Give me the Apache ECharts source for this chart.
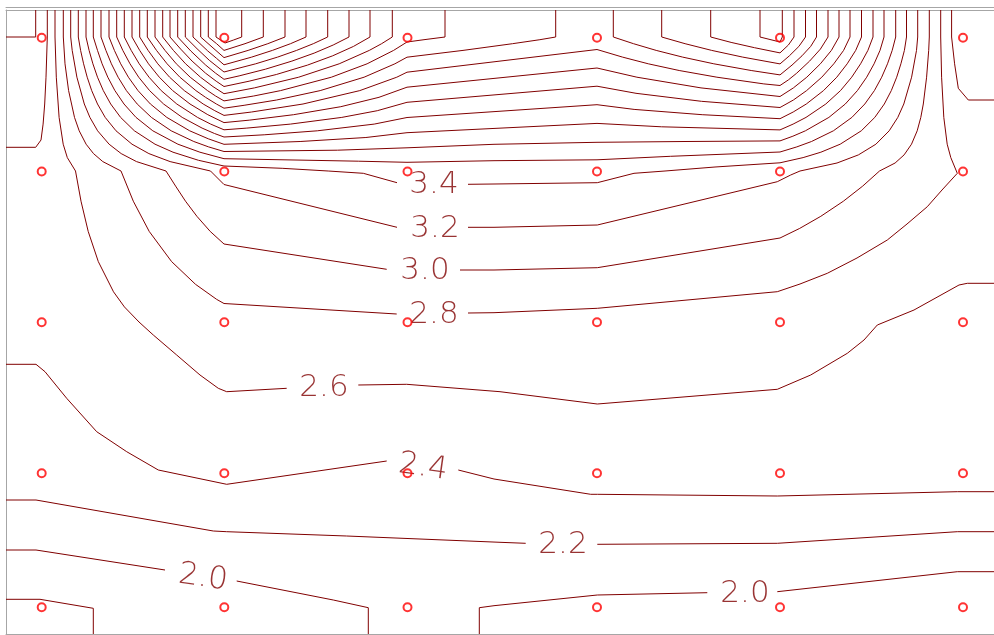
<!DOCTYPE html>
<html>
<head>
<meta charset="utf-8">
<script src="https://cdn.jsdelivr.net/npm/echarts@6/dist/echarts.min.js"></script>
<style>html,body{margin:0;padding:0;background:#fff;}#chart{width:994px;height:635px;}</style>
</head>
<body>
<div id="chart"></div>
<script>
// measurement node positions (red circles)
const nodeX = [41.7, 224.3, 407.5, 597, 780, 963];
const nodeY = [37.7, 171.5, 322.3, 473.3, 607.3];

// contour polylines (x, y in plot units), levels in names
const c68 = [[216,10],[216,37],[220.7,40.1],[225,43],[233.3,40.1],[241.7,37],[241.7,10]];
const c66 = [[208.3,10],[208.3,37],[216.6,43.7],[224,50.4],[245,43.7],[263.3,37],[263.3,10]];
const c64 = [[200.7,10],[200.7,37],[212,47],[224,57.6],[248.1,50.4],[267.8,43.7],[285,37],[285,10]];
const c62 = [[193,10],[193,37],[207.7,50.9],[216.6,58.4],[224,64.8],[251.7,57.1],[272.4,50.4],[290.5,43.7],[306,37],[306,10]];
const c60 = [[185.3,10],[185.3,37],[197,48.7],[209.3,60.3],[224,72],[255.7,63.8],[277.6,57.1],[296.6,50.4],[313.3,43.7],[327.7,37],[327.7,10]];
const c58 = [[177.7,10],[177.7,37],[190.9,51.1],[205.7,65.1],[215.6,73.2],[224,79.3],[239.1,75.9],[265.4,69.2],[291.9,61.1],[314.2,53.1],[333.2,45],[349,37],[349,10]];
const c56 = [[170,10],[170,37],[180.7,49.1],[192.1,61.1],[205.6,73.2],[216.2,81.2],[224,86.5],[249.1,81.2],[276.3,74.5],[307.5,65.1],[332.7,55.8],[353.5,46.4],[370,37],[370,10]];
const c54 = [[162.7,10],[162.7,37],[173.4,50.4],[185.6,63.8],[200.5,77.2],[213,86.6],[224,93.7],[254.4,87.9],[298.7,77.2],[339.2,63.8],[369.3,50.4],[381.6,43.7],[392.3,37],[392.3,10]];
const c52 = [[155,10],[155,37],[165,50.4],[176.3,63.8],[190.2,77.2],[207.5,90.6],[215.6,96],[224,100.9],[253.7,96],[280.6,90.6],[331.4,77.2],[367.1,63.8],[393.6,50.4],[407,42],[424,39.7],[445,37],[445,10]];
const c50 = [[147.3,10],[147.3,37],[156.5,50.4],[167.1,63.8],[179.9,77.2],[195.9,90.6],[205.5,97.3],[216.4,104],[224,108.2],[244.1,105.3],[276.6,100],[320.2,90.6],[364.1,77.2],[394.9,63.8],[407,57.2],[463,50.4],[512.5,43.7],[539.9,39.7],[555.7,37],[555.7,10]];
const c48 = [[139.7,10],[139.7,37],[148.1,50.4],[157.8,63.8],[169.6,77.2],[184.3,90.6],[203.2,104],[214.8,110.7],[224,115.4],[251.6,112],[303,104],[359.8,90.6],[396.8,77.2],[407,72.2],[597,49.5],[622.5,57.1],[648.3,63.8],[679.2,70.5],[716.9,77.2],[763.8,83.9],[780,85.5],[788.4,79.9],[796.7,73.2],[809.6,61.1],[820.4,49.1],[828,37],[828,10]];
const c46 = [[132,10],[132,37],[139.7,50.4],[148.5,63.8],[159.3,77.2],[172.7,90.6],[190,104],[207.8,114.7],[224,122.6],[249.8,120.1],[293.6,114.7],[340.8,106.7],[379,97.3],[407,87.2],[597,68],[636.9,77.2],[701,87.9],[780,96.5],[793.4,87.9],[806.8,77.2],[820.4,63.8],[831.4,50.4],[839,37],[839,10]];
const c44 = [[124.3,10],[124.3,37],[131.2,50.4],[139.2,63.8],[149,77.2],[161.2,90.6],[176.8,104],[197.5,117.4],[210.7,124.1],[224,129.8],[246.8,128.1],[290.4,124.1],[341.8,117.4],[377.3,110.7],[407,102.3],[597,86.2],[636,93.3],[701.4,101.3],[780,107.5],[793.4,100],[806.6,90.6],[821.8,77.2],[833.8,63.8],[843.6,50.4],[850,37],[850,10]];
const c42 = [[116.7,10],[116.7,37],[122.8,50.4],[130,63.8],[138.7,77.2],[149.6,90.6],[163.6,104],[182.2,117.4],[202.1,128.1],[214.5,133.5],[224,137],[264.2,134.8],[317.3,130.8],[374.2,124.1],[407,117.5],[597,104.7],[634.1,109.4],[702.2,114.7],[780,118.7],[793.2,112],[806.3,104],[823.5,90.6],[836.8,77.2],[847.2,63.8],[855.7,50.4],[861.5,37],[861.5,10]];
const c40 = [[109,10],[109,37],[114.4,50.4],[120.7,63.8],[128.4,77.2],[138,90.6],[150.4,104],[166.8,117.4],[189.7,130.8],[208.3,138.8],[224,144.3],[300.1,141.5],[365.9,137.5],[407,132.7],[597,123.4],[661.6,126.8],[780,129.9],[793.1,124.1],[806,117.4],[825.8,104],[840.5,90.6],[851.7,77.2],[860.6,63.8],[867.9,50.4],[873,37],[873,10]];
const c38 = [[101,10],[101,37],[105.9,50.4],[111.4,63.8],[118.1,77.2],[126.4,90.6],[137.2,104],[151.4,117.4],[171.2,130.8],[193.8,141.5],[208.6,146.9],[224,151.5],[337.5,150.2],[407,147.8],[494,144.3],[597,142.3],[685,141.5],[780,140.9],[792.9,136.2],[805.4,130.8],[828.9,117.4],[845.3,104],[857.4,90.6],[866.7,77.2],[874.1,63.8],[880,50.4],[884,37],[884,10]];
const c36 = [[93.3,10],[93.3,37],[97.5,50.4],[102.1,63.8],[107.8,77.2],[114.9,90.6],[124,104],[136,117.4],[152.8,130.8],[177.9,144.2],[199.9,152.2],[224,158.7],[358.3,161.2],[407,162.3],[494,160.7],[597,159.8],[670.4,156.3],[780,152],[796.8,146.9],[811.5,141.5],[833.4,130.8],[851.9,117.4],[864.8,104],[874.4,90.6],[881.7,77.2],[887.5,63.8],[892.2,50.4],[895.7,37],[895.7,10]];
const c34a = [[86,10],[86,37],[89.1,50.4],[92.9,63.8],[97.5,77.2],[103.3,90.6],[110.7,104],[120.6,117.4],[134.4,130.8],[155,144.2],[173,152.2],[198.5,160.3],[224,166],[282.2,168.3],[328.2,171],[363.3,173.3],[397,182.7]];
const c34b = [[468,184.3],[494,184],[597.3,182.7],[634,173.3],[665,171],[715,167],[780,162.8],[803.1,157.6],[820.9,152.2],[840.2,144.2],[861.3,130.8],[874.8,117.4],[884.3,104],[891.3,90.6],[896.7,77.2],[900.9,63.8],[904.4,50.4],[906.5,37],[906.5,10]];
const c32a = [[78.3,10],[78.3,37],[80.6,50.4],[83.6,63.8],[87.2,77.2],[91.7,90.6],[97.5,104],[105.2,117.4],[116,130.8],[132,144.2],[148.9,153.6],[170.1,161.6],[210.5,171],[224,184.5],[397,227.3]];
const c32b = [[468,227.3],[494,227.3],[597.3,225],[777.3,181.7],[790.7,175],[800,171],[837,163],[858.4,154.9],[875.9,144.2],[889.2,130.8],[897.8,117.4],[903.8,104],[911.6,77.2],[916.5,50.4],[917.7,37],[917.7,10]];
const c30a = [[70.7,10],[70.7,37],[72.2,50.4],[76.9,77.2],[84.3,104],[89.9,117.4],[97.6,130.8],[109.1,144.2],[121.2,153.6],[136.5,161.6],[166,171],[175.6,186.1],[185.5,201.2],[196.9,216.3],[210.2,231.4],[224,244],[386.7,269.3]];
const c30b = [[460,270],[494,270],[597.3,267.7],[780,238],[799.7,228.4],[820.8,216.3],[843.4,201.2],[862.7,186.1],[879.5,171],[895.1,163],[904.1,154.9],[911.5,144.2],[917.2,130.8],[920.8,117.4],[923.3,104],[926.6,77.2],[928.7,50.4],[929.3,37],[929.3,10]];
const c28a = [[63.3,10],[63.3,37],[65,63.8],[68.6,90.6],[74.5,117.4],[79.2,130.8],[86.1,144.2],[93.5,153.6],[102.8,161.6],[121,171],[133.3,201.2],[149.2,231.4],[171.6,261.6],[195.5,284.3],[216.7,299.4],[224,303.5],[396.7,314]];
const c28b = [[468,313],[494,312.7],[597.3,308.3],[777.3,291.7],[800,284],[827.3,273.3],[857,258],[887.3,240],[907,224],[927.3,206.7],[942,190],[957.3,173.3],[950.8,157.6],[947.2,144.2],[943.8,117.4],[941.6,77.2],[940.7,37],[940.7,10]];
const c26a = [[55,10],[55,37],[56.3,77.2],[59.1,117.4],[63.2,144.2],[67.3,157.6],[75.5,171],[81,201.2],[88.2,231.4],[98.3,261.6],[113.5,291.8],[124.4,306.9],[139,322],[153.3,335],[176.7,355],[200,375],[218.3,388.3],[226.7,391.7],[286.7,388.3]];
const c26b = [[358.3,385],[406.7,384.3],[500,391.7],[597.3,404],[777.3,389.3],[810.7,375],[847.3,353.3],[864,340],[877.3,325],[914,310],[959,285],[967.3,283.3],[994,283.3]];
const c26c = [[951.6,10],[951.6,37],[954.6,63.8],[958.3,88.3],[968.3,100],[994,100]];
const c24a = [[47.3,10],[47.3,37],[46,77.2],[44.7,104],[43.1,124.1],[41,140],[35.7,147.3],[6,147.3]];
const c24b = [[6,364.3],[36,364.3],[45,371.7],[66.7,398.3],[96.7,431.7],[126.7,451.7],[158.3,470],[226.7,484.3],[386.7,461]];
const c24c = [[458.3,470],[494,479],[590.7,494.3],[597.3,494.3],[777.3,496],[957.3,491.7],[994,491.7]];
const c22a = [[35.7,10],[35.7,37],[6,37]];
const c22b = [[6,500],[36,500],[213.3,531],[226.7,531.7],[346.7,536],[500,542.3],[525.7,543.3]];
const c22c = [[597.3,544.3],[777.3,543.3],[957.3,531.7],[994,531.7]];
const c20a = [[6,550],[36,550],[165,570]];
const c20b = [[236.7,581],[333.3,600],[368.3,607.7],[368.3,634]];
const c20c = [[479.3,634],[479.3,607.7],[494,605.7],[597.3,595],[707.3,592.7]];
const c20d = [[777.3,591.7],[957.3,571.7],[994,571.7]];
const c18 = [[6,599.3],[40,599.3],[93.3,608.3],[93.3,634]];
// right-hand peak closed contours
const r56 = [[760,10],[760,37],[780,42],[782.3,37],[782.3,10]];
const r54 = [[710.7,10],[710.7,37],[731.1,42.4],[754.5,47.7],[780,52.9],[788.4,45],[794,37],[794,10]];
const r52 = [[661.7,10],[661.7,37],[685.1,43.7],[711.7,50.4],[742.7,57.1],[780,63.9],[789.4,55.8],[798.9,46.4],[805.5,37],[805.5,10]];
const r50 = [[613.3,10],[613.3,37],[633.5,43.7],[656.2,50.4],[682.6,57.1],[713.8,63.8],[751.2,70.5],[780,74.9],[792,65.1],[802,55.8],[810.7,46.4],[816.5,37],[816.5,10]];

// contour labels
const labelText = ['3.4','3.2','3.0','2.8','2.6','2.4','2.2','2.0','2.0'];
const labelX = [434, 435, 425, 434, 324, 423, 563, 203, 745];
const labelY = [185, 229, 271, 315, 388, 467.5, 545, 578, 594];
</script>
<script>
const labelRotate = [0, 0, 0, 0, 0, -8, 0, -8, 0];
const LINE = '#800000';
const GRAY = '#a6a6a6';
const contours = [c68,c66,c64,c62,c60,c58,c56,c54,c52,c50,c48,c46,c44,c42,c40,c38,c36,
  c34a,c34b,c32a,c32b,c30a,c30b,c28a,c28b,c26a,c26b,c26c,c24a,c24b,c24c,c22a,c22b,c22c,
  c20a,c20b,c20c,c20d,c18,r56,r54,r52,r50];

const series = contours.map(function (d) {
  return {
    type: 'line', data: d, symbol: 'none', showSymbol: false, silent: true,
    lineStyle: { color: LINE, width: 1 }, z: 2, animation: false
  };
});

const nodes = [];
nodeY.forEach(function (y) { nodeX.forEach(function (x) { nodes.push([x, y]); }); });
series.push({
  type: 'scatter', data: nodes, symbol: 'circle', symbolSize: 8, silent: true,
  itemStyle: { color: 'rgba(0,0,0,0)', borderColor: '#ff0000', borderWidth: 2 },
  z: 5, animation: false
});

series.push({
  type: 'scatter', symbolSize: 1, silent: true, z: 4, animation: false,
  itemStyle: { color: 'rgba(0,0,0,0)' },
  data: labelText.map(function (t, i) {
    return { value: [labelX[i], labelY[i]], label: { formatter: t, rotate: labelRotate[i] } };
  }),
  label: {
    show: true, position: 'inside', color: LINE, fontSize: 31,
    fontFamily: 'DejaVu Sans', fontWeight: 200
  }
});

const chart = echarts.init(document.getElementById('chart'), null, { renderer: 'canvas' });
const hidden = { show: false };
chart.setOption({
  animation: false,
  backgroundColor: '#ffffff',
  grid: { left: 6, right: 0, top: 10, bottom: 1, containLabel: false },
  xAxis: [
    { type: 'value', min: 6, max: 994, position: 'top', axisLine: { show: true, lineStyle: { color: GRAY } },
      axisTick: hidden, axisLabel: hidden, splitLine: hidden },
    { type: 'value', min: 0, max: 1, position: 'top', offset: 3, axisLine: { show: true, lineStyle: { color: GRAY } },
      axisTick: hidden, axisLabel: hidden, splitLine: hidden },
    { type: 'value', min: 0, max: 1, position: 'bottom', axisLine: { show: true, lineStyle: { color: GRAY } },
      axisTick: hidden, axisLabel: hidden, splitLine: hidden }
  ],
  yAxis: [
    { type: 'value', min: 10, max: 634, inverse: true, position: 'left',
      axisLine: { show: true, lineStyle: { color: GRAY } },
      axisTick: hidden, axisLabel: hidden, splitLine: hidden }
  ],
  series: series
});
</script>
</body>
</html>
